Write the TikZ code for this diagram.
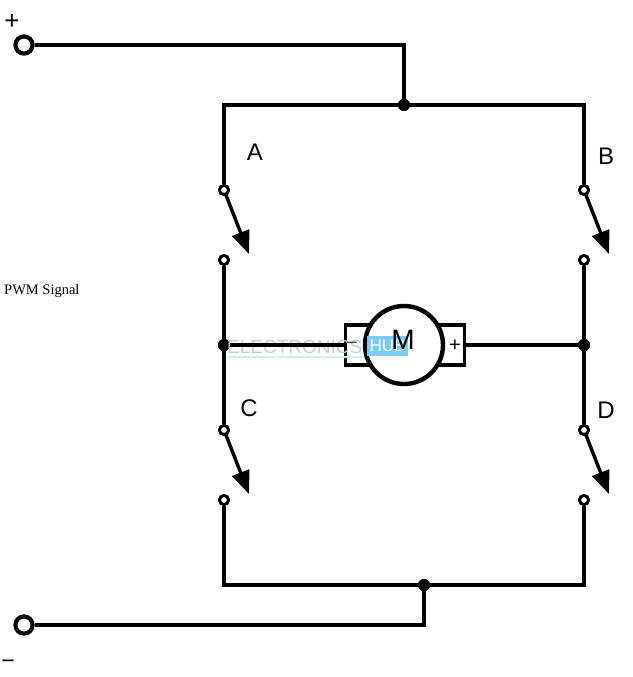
\documentclass[tikz,border=0pt]{standalone}
\usepackage{fontspec}
\setmainfont{Liberation Sans}
\newfontfamily\serifpwm{Liberation Serif}
\usetikzlibrary{arrows.meta}
\definecolor{hubblue}{HTML}{7CCBF0}
\definecolor{wmgrey}{HTML}{C4CDD2}
\definecolor{wmline}{HTML}{D3EEFA}
\tikzset{
  wire/.style={line width=4.2pt,draw=black,line join=miter},
  thinwire/.style={line width=3.6pt,draw=black},
  term/.style={circle,draw=black,fill=white,line width=2.8pt,minimum size=9pt,inner sep=0pt},
  bigterm/.style={circle,draw=black,fill=white,line width=4pt,minimum size=17pt,inner sep=0pt},
  junction/.style={circle,fill=black,minimum size=12pt,inner sep=0pt},
  swarrow/.style={line width=3.4pt,draw=black,-{Triangle[length=23pt,width=18pt]},shorten <=-1pt},
  lab/.style={font=\fontsize{24}{26}\selectfont,inner sep=0pt},
}
\begin{document}
\begin{tikzpicture}[x=1pt,y=-1pt]
\useasboundingbox (0,0) rectangle (632,677);
\fill[white] (0,0) rectangle (632,677);
% nodes
\node[bigterm] (P) at (24,45) {};
\node[bigterm] (N) at (24,625) {};
\node[junction] (JT) at (404,105) {};
\node[junction] (JB) at (424,585) {};
\node[junction] (JL) at (224,345) {};
\node[junction] (JR) at (584,345) {};
\coordinate (TL) at (224,105);
\coordinate (TR) at (584,105);
\coordinate (BL) at (224,585);
\coordinate (BR) at (584,585);
\node[term] (A1) at (224,190) {};
\node[term] (A2) at (224,260) {};
\node[term] (B1) at (584,190) {};
\node[term] (B2) at (584,260) {};
\node[term] (C1) at (224,430) {};
\node[term] (C2) at (224,500) {};
\node[term] (D1) at (584,430) {};
\node[term] (D2) at (584,500) {};
\coordinate (Ae) at (249,254);
\coordinate (Be) at (609,254);
\coordinate (Ce) at (249,494);
\coordinate (De) at (609,494);
% wires
\draw[wire] (P) -- (404,45) -- (JT);
\draw[wire] (A1) -- (TL) -- (TR) -- (B1);
\draw[wire] (N) -- (424,625) -- (JB);
\draw[wire] (C2) -- (BL) -- (BR) -- (D2);
\draw[wire] (A2) -- (JL) -- (C1);
\draw[wire] (B2) -- (JR) -- (D1);
\node[term] at (A1) {};
\node[term] at (A2) {};
\node[term] at (B1) {};
\node[term] at (B2) {};
\node[term] at (C1) {};
\node[term] at (C2) {};
\node[term] at (D1) {};
\node[term] at (D2) {};
\node[junction] at (JT) {};
\node[junction] at (JB) {};
\node[junction] at (JL) {};
\node[junction] at (JR) {};
\node[bigterm] at (P) {};
\node[bigterm] at (N) {};
% switches
\draw[swarrow] (A1) -- (Ae);
\draw[swarrow] (B1) -- (Be);
\draw[swarrow] (C1) -- (Ce);
\draw[swarrow] (D1) -- (De);
% motor
\node[draw=black,fill=white,line width=3.6pt,minimum width=119pt,minimum height=39.5pt,inner sep=0pt] (body) at (405,345) {};
% watermark
\fill[wmline] (228,355.5) rectangle (367,357.5);
\node[anchor=west,text=wmgrey,inner sep=0pt,font=\fontsize{19}{21}\selectfont] (wm) at (227,346.5) {ELECTRONICS};
\draw[thinwire] (JL) -- (body.west);
\draw[wire] (body.east) -- (JR);
\node[text=black!70,font=\fontsize{20}{22}\selectfont,inner sep=0pt] (mn) at (352,346) {−};
\node[font=\fontsize{20}{22}\selectfont,inner sep=0pt] (pl) at (455,346) {+};
\node[circle,draw=black,fill=white,line width=4.4pt,minimum size=78pt,inner sep=0pt] (M) at (404,345) {};
\node[fill=hubblue,minimum width=41pt,minimum height=20pt,inner sep=0pt,text=white,font=\fontsize{17}{19}\selectfont] (hub) at (387.5,346) {HUB};
\node[font=\fontsize{28}{30}\selectfont,inner sep=0pt] (Mt) at (403,340) {M};
% labels
\node[lab] (la) at (255,152.5) {A};
\node[lab] (lb) at (606,156.5) {B};
\node[lab] (lc) at (249,408.5) {C};
\node[lab] (ld) at (606,410.5) {D};
\node[anchor=west,inner sep=0pt,font=\serifpwm\fontsize{14.5}{16}\selectfont] (pwm) at (4,291) {PWM Signal};
\node[font=\fontsize{26}{28}\selectfont,inner sep=0pt] (plus) at (12,22) {+};
\node[font=\fontsize{23}{25}\selectfont,inner sep=0pt] (minus) at (8,664) {−};
\end{tikzpicture}
\end{document}
